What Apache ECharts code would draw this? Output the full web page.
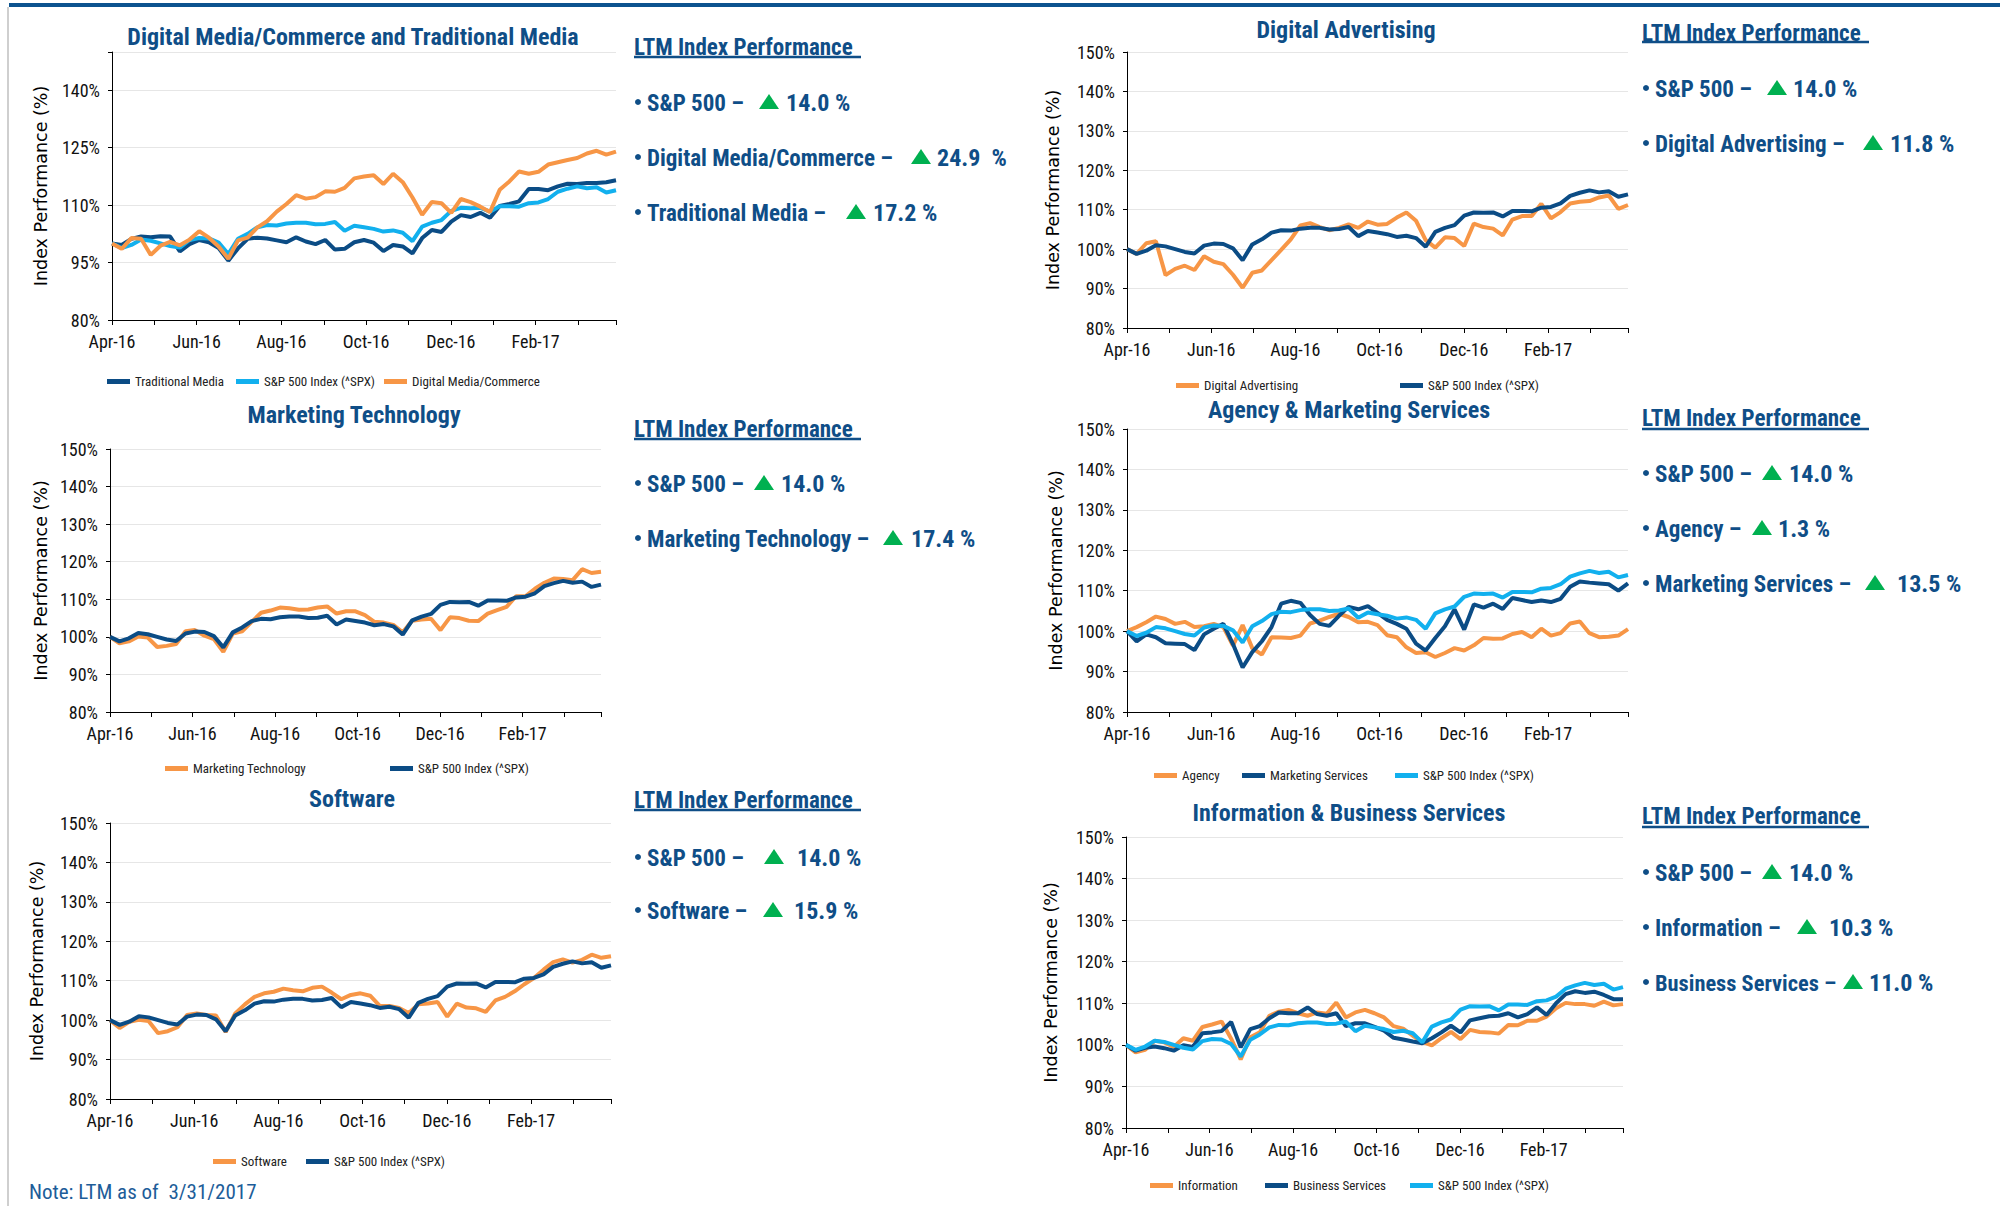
<!DOCTYPE html>
<html>
<head>
<meta charset="utf-8">
<title>LTM Index Performance</title>
<script src="https://cdn.jsdelivr.net/npm/echarts@6/dist/echarts.min.js"></script>
<style>
  html, body { margin: 0; padding: 0; background: #fff; }
  #chart { width: 2000px; height: 1206px; }
</style>
</head>
<body>
<div id="chart"></div>
<script>
// month labels on the x axis (one every two months, axis runs Apr-16 .. end of Mar-17)
var monthLabels = ["Apr-16", "Jun-16", "Aug-16", "Oct-16", "Dec-16", "Feb-17"];

// weekly index levels (%)
var spx = [100, 98.8, 99.6, 101, 100.7, 100, 99.3, 98.9, 100.9, 101.4,
  101.3, 100.2, 97.2, 101.2, 102.5, 104.2, 104.8, 104.7, 105.2, 105.4,
  105.4, 105, 105.1, 105.6, 103.3, 104.6, 104.2, 103.8, 103.1, 103.4,
  102.8, 100.6, 104.4, 105.4, 106.1, 108.5, 109.3, 109.2, 109.3, 108.3,
  109.7, 109.7, 109.6, 110.5, 110.7, 111.6, 113.5, 114.3, 114.9, 114.4,
  114.7, 113.3, 113.9];
var tradMedia = [100, 99.6, 101.2, 101.8, 101.6, 101.9, 101.8, 97.9, 99.8, 100.9,
  100.3, 98.8, 95.5, 98.7, 101.2, 101.5, 101.3, 100.8, 100.3, 101.6,
  100.5, 99.8, 100.9, 98.4, 98.6, 100.3, 100.9, 100.2, 98, 99.6,
  99.2, 97.4, 101.4, 103.5, 103, 105.7, 107.4, 106.9, 108, 106.7,
  109.8, 110.3, 111, 114.2, 114.2, 113.9, 114.9, 115.6, 115.5, 115.8,
  115.8, 116, 116.5];
var digitalMedia = [100, 98.6, 101.4, 101.2, 97, 99.4, 100.4, 99.5, 101, 103.2,
  101.5, 99.2, 96, 100.8, 101.5, 104.2, 105.8, 108.3, 110.3, 112.6,
  111.7, 112.1, 113.6, 113.5, 114.5, 117, 117.5, 117.8, 115.5, 118.2,
  116, 112, 107.5, 110.8, 110.5, 108, 111.6, 110.8, 109.6, 108.2,
  114, 116.2, 118.8, 118.2, 118.7, 120.6, 121.2, 121.8, 122.3, 123.5,
  124.2, 123.2, 124];
var digitalAdvertising = [100, 98.8, 101.5, 102, 93.4, 95, 95.8, 94.7, 98.2, 96.8,
  96.2, 93.5, 90.2, 94, 94.6, 97.2, 99.8, 102.5, 106, 106.6,
  105.6, 104.8, 105.4, 106.3, 105.4, 107, 106.2, 106.4, 108, 109.3,
  107.2, 102.3, 100.4, 103, 102.8, 100.8, 106.5, 105.6, 105.2, 103.5,
  107.5, 108.4, 108.4, 111.5, 107.8, 109.4, 111.6, 112, 112.2, 113.1,
  113.6, 110.2, 111.2];
var marketingTech = [100, 98.3, 98.8, 100.1, 99.8, 97.3, 97.6, 98.1, 101.5, 101.8,
  100.3, 99.4, 96, 100.9, 101.5, 104, 106.4, 107, 107.8, 107.6,
  107.2, 107.3, 107.8, 108.1, 106.2, 106.8, 106.8, 105.8, 104, 103.8,
  103.2, 101.2, 104.3, 104.6, 104.8, 101.8, 105.2, 105, 104.3, 104.2,
  106.2, 107.1, 108, 110.8, 110.8, 112.8, 114.4, 115.5, 115.4, 115.1,
  118, 117, 117.3];
var agency = [100, 101, 102.2, 103.6, 103, 101.8, 102.3, 101, 101.2, 101.8,
  101, 96.4, 101.5, 95.8, 94.2, 98.5, 98.4, 98.3, 98.9, 101.9,
  102.6, 103.5, 104.3, 103.5, 102.2, 102.3, 101.5, 99, 98.5, 96,
  94.6, 94.8, 93.6, 94.6, 95.8, 95.2, 96.5, 98.3, 98.1, 98.2,
  99.3, 99.8, 98.5, 100.6, 98.9, 99.5, 101.9, 102.4, 99.5, 98.5,
  98.6, 98.9, 100.5];
var marketingServices = [100, 97.5, 99.2, 98.5, 97, 96.9, 96.8, 95.3, 99.2, 100.6,
  101.8, 96.8, 91, 94.8, 97.5, 101, 106.8, 107.5, 107, 104,
  101.8, 101.3, 103.8, 106, 105.4, 106.2, 104.5, 102.8, 101.8, 100.6,
  96.9, 95.2, 98.3, 101.2, 105.4, 100.4, 106.6, 105.8, 106.8, 105.5,
  108.2, 107.7, 107.2, 107.6, 107.2, 108, 111, 112.3, 112, 111.8,
  111.6, 110, 111.8];
var software = [100, 98, 99.6, 100.1, 99.8, 96.7, 97.2, 98.2, 101.3, 101.7,
  101.3, 101.2, 97, 101.7, 104, 105.9, 106.8, 107.2, 108, 107.6,
  107.3, 108.2, 108.5, 107, 105.3, 106.4, 106.8, 106.2, 103.6, 103.6,
  103.1, 101.8, 104, 104.2, 104.6, 100.9, 104.2, 103.2, 103, 102.1,
  105, 105.9, 107.3, 109.1, 110.7, 112.8, 114.7, 115.4, 114.6, 115.3,
  116.6, 115.8, 116.2];
var information = [100, 98.2, 98.8, 101, 100.6, 99.5, 101.6, 101, 104.3, 104.9,
  105.6, 101.5, 96.5, 101.8, 103, 107, 108, 108.4, 107.6, 107,
  107.8, 107.5, 110.2, 106.6, 107.8, 108.4, 107.6, 106.6, 104.5, 103.9,
  102.2, 100.7, 99.9, 101.6, 103.1, 101.4, 103.6, 103.1, 103, 102.7,
  104.8, 104.7, 105.8, 105.8, 106.8, 108.8, 110.1, 109.8, 109.8, 109.4,
  110.4, 109.5, 109.8];
var businessServices = [100, 98.6, 99.3, 99.6, 99.2, 98.6, 99.9, 99.5, 102.8, 103,
  103.3, 105.5, 99.4, 103.8, 104.5, 106.4, 107.8, 107.6, 107.6, 109,
  107.4, 107, 107.6, 104.5, 105.2, 105.2, 104.3, 103.4, 101.7, 101.3,
  100.8, 100.4, 101.6, 103, 104.6, 103, 105.9, 106.4, 106.9, 107,
  107.6, 106.6, 107.4, 109, 107.2, 110, 112.2, 112.9, 112.5, 112.8,
  112, 111, 111];

// LTM text blocks
var ltmLabels = [
  ["S&P 500 –", "Digital Media/Commerce –", "Traditional Media –"],
  ["S&P 500 –", "Digital Advertising –"],
  ["S&P 500 –", "Marketing Technology –"],
  ["S&P 500 –", "Agency –", "Marketing Services –"],
  ["S&P 500 –", "Software –"],
  ["S&P 500 –", "Information –", "Business Services –"]
];
var ltmValues = [
  ["14.0 %", "24.9  %", "17.2 %"],
  ["14.0 %", "11.8 %"],
  ["14.0 %", "17.4 %"],
  ["14.0 %", "1.3 %", "13.5 %"],
  ["14.0 %", "15.9 %"],
  ["14.0 %", "10.3 %", "11.0 %"]
];

var NAVY = "#0b4c85";
var SKY = "#12b0ee";
var ORANGE = "#f79646";
var TEXT_BLUE = "#0f4e87";
var GREEN = "#00b050";
var NARROW = "'Liberation Sans Narrow', 'Arial Narrow', 'Roboto Condensed', 'Liberation Sans', sans-serif";
var SPX_NAME = "S&P 500 Index (^SPX)";

var axisEnd = 11.9; // months after Apr-16
var weekStep = axisEnd / (spx.length - 1);

function toPoints(arr) {
  return arr.map(function (v, i) { return [i * weekStep, v]; });
}

var panels = [
  { title: "Digital Media/Commerce and Traditional Media", tx: 353, ty: 37,
    grid: { left: 112, top: 52, width: 504, height: 268 }, yInterval: 15, nameGap: 62,
    series: [["Traditional Media", tradMedia, NAVY], [SPX_NAME, spx, SKY], ["Digital Media/Commerce", digitalMedia, ORANGE]],
    legendX: [107, 236, 384], legendY: 383 },
  { title: "Digital Advertising", tx: 1346, ty: 30,
    grid: { left: 1127, top: 52, width: 501, height: 276 }, yInterval: 10, nameGap: 65,
    series: [["Digital Advertising", digitalAdvertising, ORANGE], [SPX_NAME, spx, NAVY]],
    legendX: [1176, 1400], legendY: 387 },
  { title: "Marketing Technology", tx: 354, ty: 415,
    grid: { left: 110, top: 449, width: 491, height: 263 }, yInterval: 10, nameGap: 60,
    series: [["Marketing Technology", marketingTech, ORANGE], [SPX_NAME, spx, NAVY]],
    legendX: [165, 390], legendY: 770 },
  { title: "Agency & Marketing Services", tx: 1349, ty: 410,
    grid: { left: 1127, top: 429, width: 501, height: 283 }, yInterval: 10, nameGap: 62,
    series: [["Agency", agency, ORANGE], ["Marketing Services", marketingServices, NAVY], [SPX_NAME, spx, SKY]],
    legendX: [1154, 1242, 1395], legendY: 777 },
  { title: "Software", tx: 352, ty: 799,
    grid: { left: 110, top: 823, width: 501, height: 276 }, yInterval: 10, nameGap: 64,
    series: [["Software", software, ORANGE], [SPX_NAME, spx, NAVY]],
    legendX: [213, 306], legendY: 1163 },
  { title: "Information & Business Services", tx: 1349, ty: 813,
    grid: { left: 1126, top: 837, width: 497, height: 291 }, yInterval: 10, nameGap: 66,
    series: [["Information", information, ORANGE], ["Business Services", businessServices, NAVY], [SPX_NAME, spx, SKY]],
    legendX: [1150, 1265, 1410], legendY: 1187 }
];

// where the LTM blocks sit: heading, underline, and rows of [y, triangle centre, value start]
var blocks = [
  { x: 634, head: 47, line: 57, rows: [[102, 769, 786], [157, 921, 937], [212, 856, 873]] },
  { x: 1642, head: 33, line: 42, rows: [[88, 1777, 1793], [143, 1873, 1890]] },
  { x: 634, head: 429, line: 439, rows: [[483, 764, 781], [538, 893, 911]] },
  { x: 1642, head: 418, line: 429, rows: [[473, 1772, 1789], [528, 1762, 1778], [583, 1875, 1897]] },
  { x: 634, head: 800, line: 810, rows: [[857, 774, 797], [910, 773, 794]] },
  { x: 1642, head: 816, line: 827, rows: [[872, 1772, 1789], [927, 1807, 1829], [982, 1853, 1869]] }
];

// shrink a bold label a little if it would run into its triangle
var measureCtx = document.createElement("canvas").getContext("2d");
function fitSize(text, size, maxWidth) {
  measureCtx.font = "bold " + size + "px " + NARROW;
  var w = measureCtx.measureText(text).width;
  return w > maxWidth ? Math.floor(size * maxWidth / w * 10) / 10 : size;
}

document.addEventListener("DOMContentLoaded", function () {
  var chart = echarts.init(document.getElementById("chart"), null, { renderer: "svg" });

  var grids = [], xAxes = [], yAxes = [], series = [], legends = [], graphics = [];

  panels.forEach(function (p, k) {
    grids.push({ left: p.grid.left, top: p.grid.top, width: p.grid.width, height: p.grid.height, containLabel: false });

    xAxes.push({
      gridIndex: k, type: "value", min: 0, max: axisEnd, interval: 1,
      axisLine: { show: true, onZero: false, lineStyle: { color: "#000", width: 1 } },
      axisTick: { show: true, length: 5, lineStyle: { color: "#000" } },
      splitLine: { show: false },
      axisLabel: {
        margin: 12, fontSize: 18, fontFamily: NARROW, color: "#111",
        formatter: function (v) {
          if (v % 2 !== 0) return "";
          return monthLabels[v / 2] || "";
        }
      }
    });

    yAxes.push({
      gridIndex: k, type: "value", min: 80, max: 150, interval: p.yInterval,
      axisLine: { show: true, lineStyle: { color: "#000", width: 1 } },
      axisTick: { show: true, length: 4, lineStyle: { color: "#000" } },
      splitLine: { show: true, lineStyle: { color: "#e6e6e6", width: 1 } },
      axisLabel: {
        margin: 12, fontSize: 18, fontFamily: NARROW, color: "#111",
        formatter: function (v) {
          if ((v - 80) % p.yInterval !== 0) return "";
          return v + "%";
        }
      },
      name: "Index Performance (%)", nameLocation: "middle", nameGap: p.nameGap, nameRotate: 90,
      nameTextStyle: { fontSize: 17.5, fontFamily: "'DejaVu Sans', sans-serif", color: "#000" }
    });

    p.series.forEach(function (s, j) {
      series.push({
        type: "line", name: s[0], xAxisIndex: k, yAxisIndex: k,
        data: toPoints(s[1]), showSymbol: false, symbol: "none", silent: true,
        lineStyle: { width: 4, color: s[2] }, itemStyle: { color: s[2] },
        z: 2 + j
      });
      // one legend per entry so each sits where the reference puts it
      legends.push({
        left: p.legendX[j], top: p.legendY - 8, padding: 0,
        itemWidth: 23, itemHeight: 5, icon: "rect", selectedMode: false,
        textStyle: { fontSize: 13, fontFamily: NARROW, color: "#222" },
        data: [{ name: s[0], itemStyle: { color: s[2] } }]
      });
    });

    graphics.push({
      type: "text", x: p.tx, y: p.ty, silent: true,
      style: { text: p.title, fill: TEXT_BLUE, fontSize: 24, fontWeight: "bold", fontFamily: NARROW, align: "center", verticalAlign: "middle" }
    });
  });

  // LTM text blocks
  blocks.forEach(function (b, k) {
    graphics.push({
      type: "text", x: b.x, y: b.head, silent: true,
      style: { text: "LTM Index Performance", fill: TEXT_BLUE, fontSize: 23, fontWeight: "bold", fontFamily: NARROW, verticalAlign: "middle" }
    });
    graphics.push({
      type: "line", silent: true,
      shape: { x1: b.x, y1: b.line, x2: b.x + 227, y2: b.line },
      style: { stroke: TEXT_BLUE, lineWidth: 2.5 }
    });
    b.rows.forEach(function (r, j) {
      var labelX = b.x + 13;
      graphics.push({
        type: "circle", silent: true, shape: { cx: b.x + 4, cy: r[0], r: 3 }, style: { fill: TEXT_BLUE }
      });
      graphics.push({
        type: "text", x: labelX, y: r[0] + 1, silent: true,
        style: {
          text: ltmLabels[k][j], fill: TEXT_BLUE, fontWeight: "bold", fontFamily: NARROW, verticalAlign: "middle",
          fontSize: fitSize(ltmLabels[k][j], 23, r[1] - 16 - labelX)
        }
      });
      graphics.push({
        type: "polygon", silent: true,
        shape: { points: [[r[1] - 10, r[0] + 7], [r[1] + 10, r[0] + 7], [r[1], r[0] - 8]] },
        style: { fill: GREEN }
      });
      graphics.push({
        type: "text", x: r[2], y: r[0] + 1, silent: true,
        style: { text: ltmValues[k][j], fill: TEXT_BLUE, fontSize: 24, fontWeight: "bold", fontFamily: NARROW, verticalAlign: "middle" }
      });
    });
  });

  // page frame and footnote
  graphics.push({ type: "rect", silent: true, shape: { x: 9, y: 3, width: 1991, height: 4 }, style: { fill: "#0c538f" } });
  graphics.push({ type: "rect", silent: true, shape: { x: 7, y: 7, width: 2, height: 1199 }, style: { fill: "#cfcfcf" } });
  graphics.push({
    type: "text", x: 29, y: 1192, silent: true,
    style: { text: "Note: LTM as of  3/31/2017", fill: "#1d5d99", fontSize: 21, fontFamily: NARROW, verticalAlign: "middle" }
  });

  var option = {
    backgroundColor: "#fff",
    animation: false,
    grid: grids,
    xAxis: xAxes,
    yAxis: yAxes,
    legend: legends,
    series: series,
    graphic: graphics
  };

  chart.setOption(option);
});
</script>
</body>
</html>
